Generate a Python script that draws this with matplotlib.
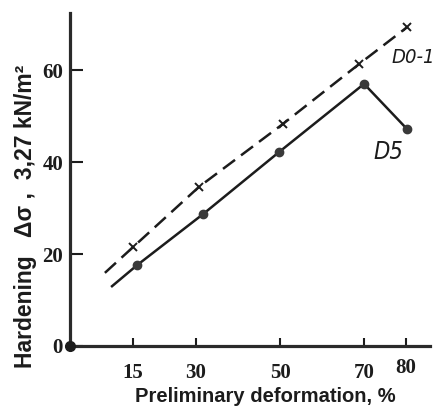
import matplotlib.pyplot as plt

# (curve start points have no marker)
d5_x = [10.0, 16.0, 31.7, 49.8, 70.0, 80.2]
d5_y = [13.0, 17.6, 28.7, 42.2, 57.0, 47.2]

d01_x = [8.3, 15.0, 30.7, 50.7, 68.8, 80.2]
d01_y = [15.9, 21.5, 34.6, 48.3, 61.3, 69.3]

x_ticks = [15, 30, 50, 70, 80]
y_ticks = [0, 20, 40, 60]

fig = plt.figure(figsize=(4.36, 4.08), dpi=100)
ax = fig.add_axes([0.1606, 0.152, 0.8257, 0.816])

ink = "#1c1c1c"

ax.plot(d5_x, d5_y, color=ink, linewidth=1.8, marker="o", markersize=6,
        markerfacecolor="#3a3a3a", markeredgecolor="#3a3a3a",
        markevery=[1, 2, 3, 4, 5], clip_on=False)
ax.plot(d01_x, d01_y, color=ink, linewidth=1.8, linestyle=(0, (6, 3)),
        marker="x", markersize=6, markeredgewidth=1.4,
        markevery=[1, 2, 3, 4, 5], clip_on=False)

# dot at the origin
ax.plot([0], [0], "o", color=ink, markersize=7, clip_on=False, zorder=5)

ax.set_xlim(0, 85.7)
ax.set_ylim(0, 72.4)

for side in ["top", "right"]:
    ax.spines[side].set_visible(False)
for side in ["left", "bottom"]:
    ax.spines[side].set_linewidth(2.3)
    ax.spines[side].set_color("#2a2a2a")

tick_font = {"family": "Liberation Serif", "size": 15, "weight": "bold"}
ax.set_xticks(x_ticks)
ax.set_xticklabels([str(v) for v in x_ticks], fontdict=tick_font, color=ink)
ax.set_yticks(y_ticks)
ax.set_yticklabels([str(v) for v in y_ticks], fontdict=tick_font, color=ink)
ax.tick_params(axis="y", direction="in", length=9.5, width=1.5, pad=5, color=ink)
ax.tick_params(axis="x", direction="in", length=6, width=1.5, pad=12, color=ink)
ax.xaxis.get_major_ticks()[-1].set_pad(9)

fig.text(0.608, 0.029, "Preliminary deformation, %", ha="center", va="center",
         color=ink, family="Liberation Sans", size=14.5, weight="bold")
fig.text(0.058, 0.47, "Hardening   Δσ ,  3,27 kN/m²",
         rotation=90, ha="center", va="center", color=ink,
         family="Liberation Sans", size=16.5, weight="bold")

curve_font = {"family": "DejaVu Sans", "style": "italic", "stretch": "condensed"}
ax.text(75.7, 42.2, "D5", ha="center", va="center", color=ink, size=17,
        **curve_font)
ax.text(76.6, 62.8, "D0-1", ha="left", va="center", color=ink, size=14.5,
        **curve_font)

fig.savefig("out.png", dpi=100)
